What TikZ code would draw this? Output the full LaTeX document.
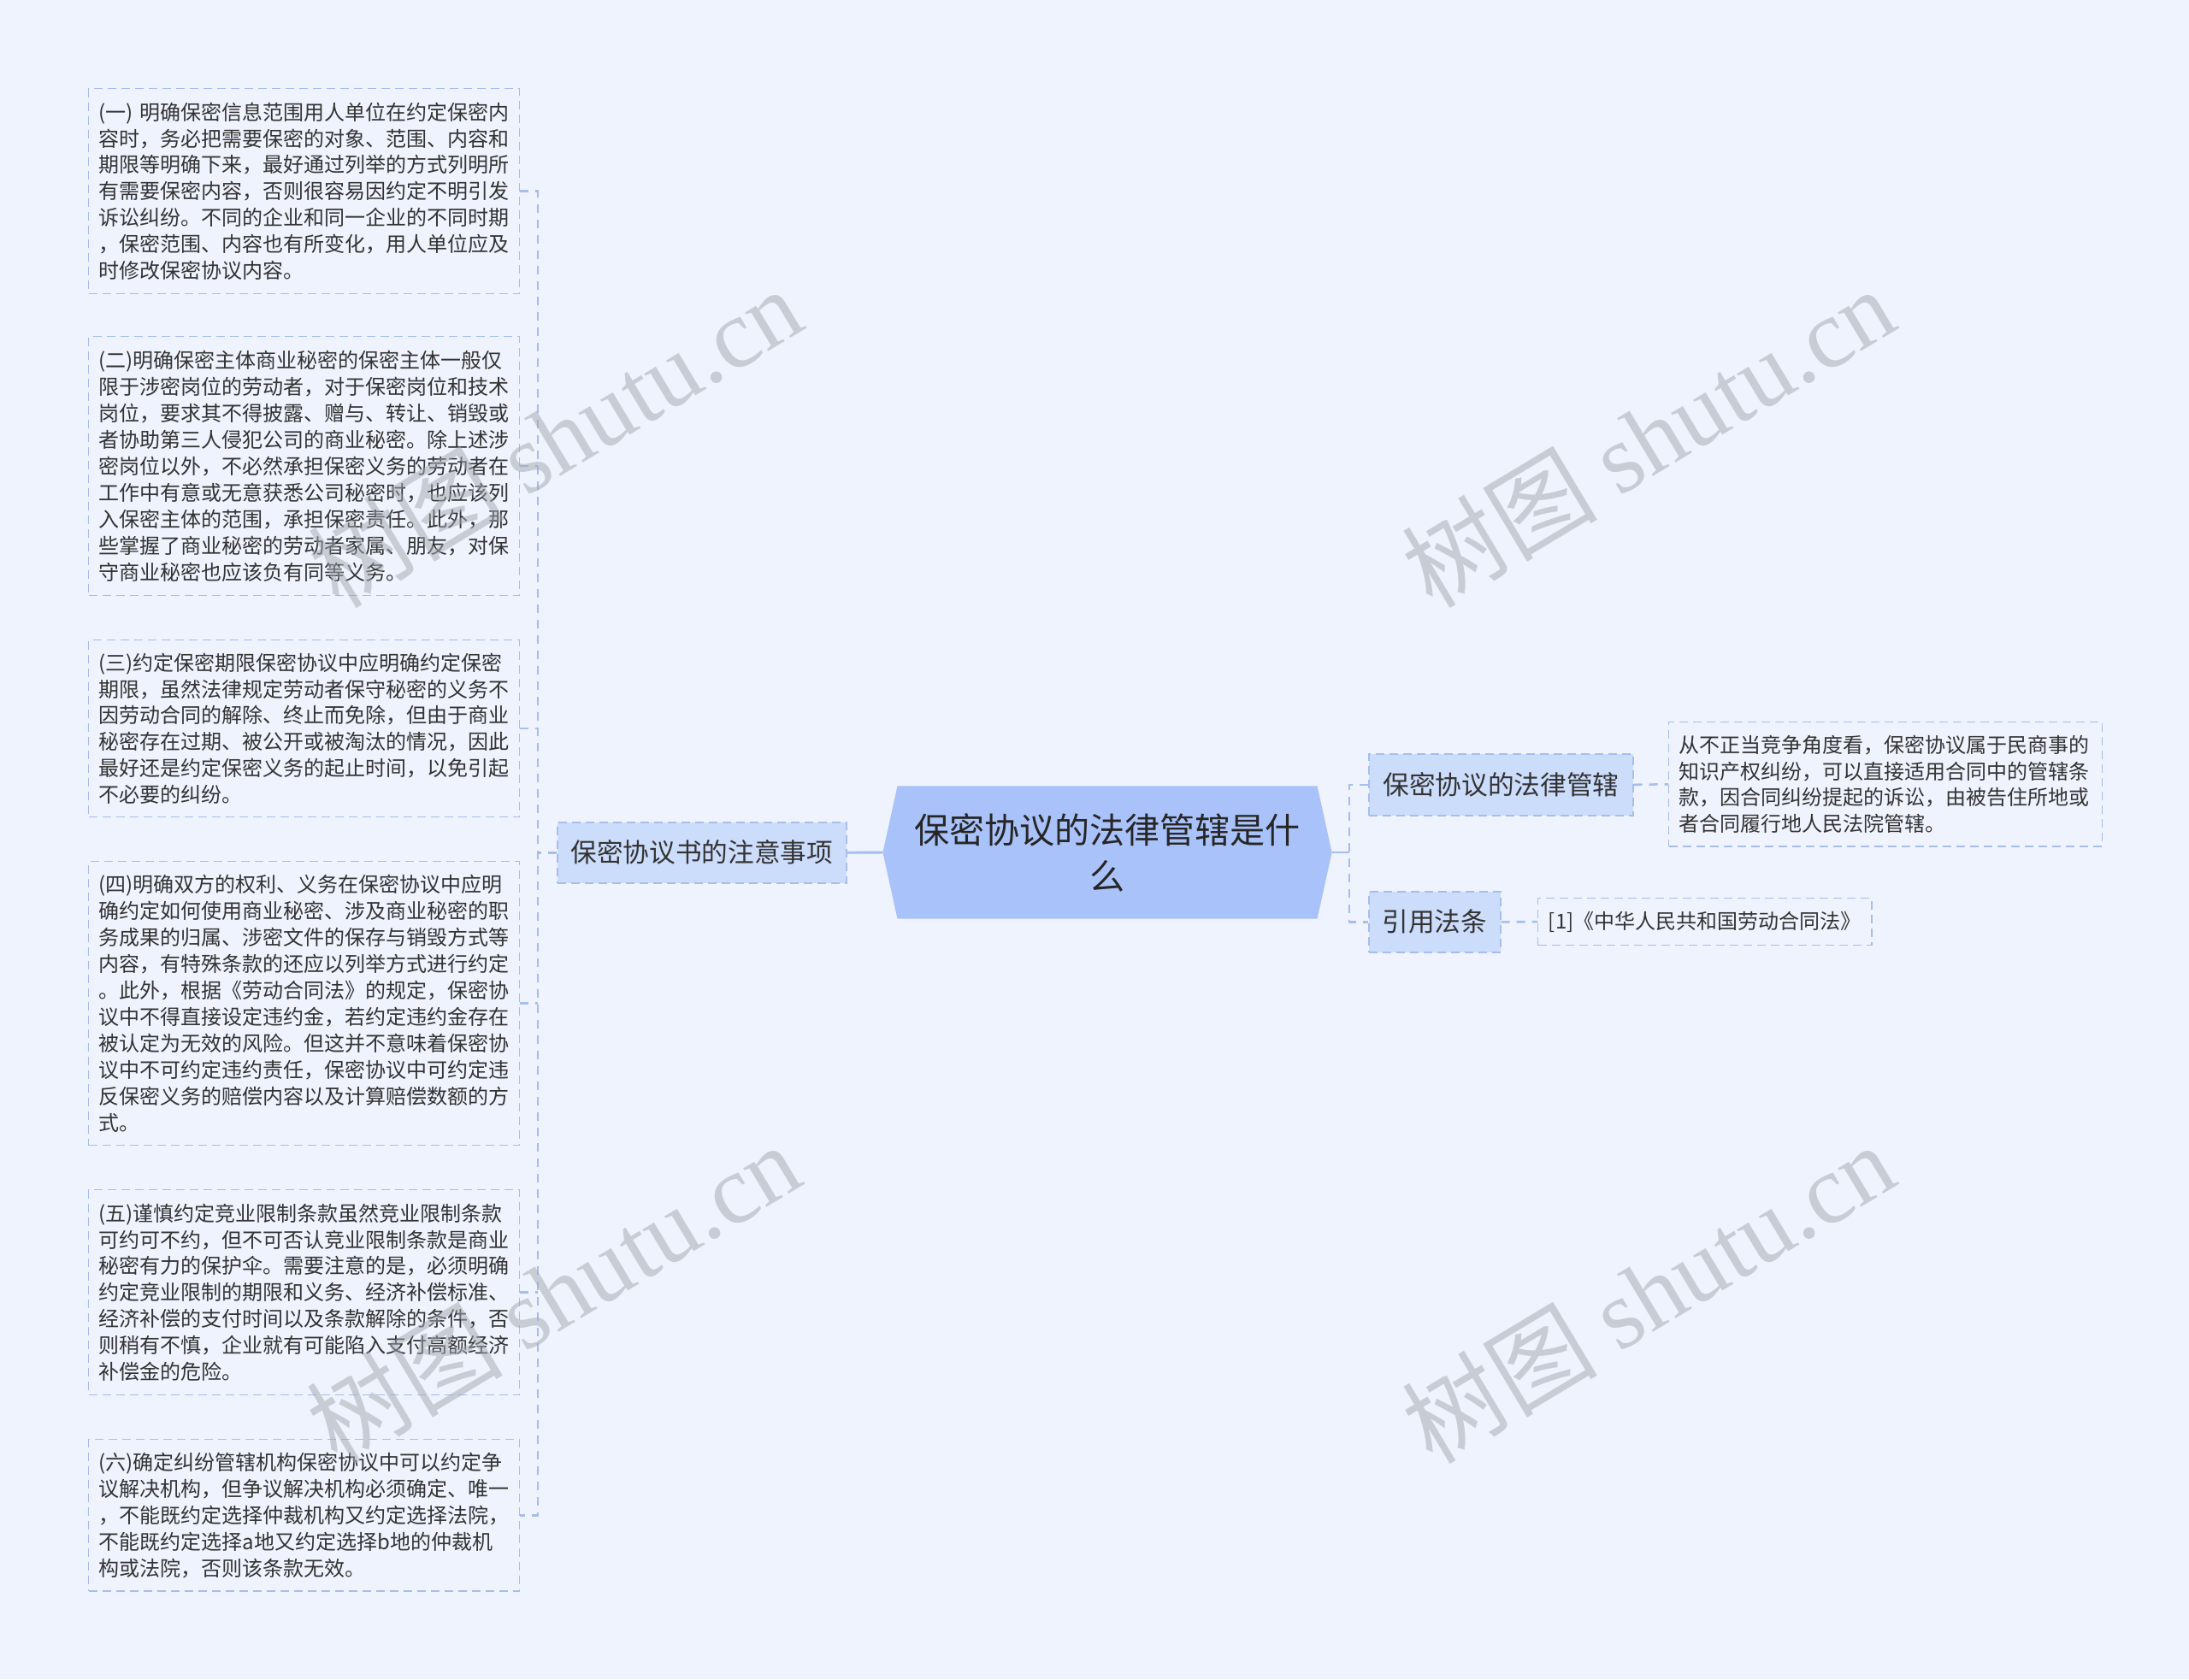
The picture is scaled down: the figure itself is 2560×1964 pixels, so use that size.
\documentclass[tikz,border=0pt]{standalone}
\usepackage{fontspec}
\setmainfont{Noto Sans CJK SC}
\newfontfamily\wmserif{Liberation Serif}
\usetikzlibrary{backgrounds}
\definecolor{bgc}{HTML}{EEF3FD}
\definecolor{centerc}{HTML}{A9C2F9}
\definecolor{branchc}{HTML}{CCDCFB}
\definecolor{edgec}{HTML}{A6BDEE}
\definecolor{txtc}{HTML}{333333}
\definecolor{wmc}{HTML}{A2A7AF}
\begin{document}
\begin{tikzpicture}[x=0.375pt,y=-0.375pt,
  leaf/.style={draw=edgec, line width=0.55pt, dash pattern=on 3.75pt off 2.25pt,
    anchor=north west, inner xsep=4.5pt, inner ysep=0pt, align=left, text=txtc,
    font=\fontsize{9pt}{11.6pt}\selectfont, text width=180pt},
  leafone/.style={draw=edgec, line width=0.55pt, dash pattern=on 3.75pt off 2.25pt,
    anchor=north west, inner sep=0pt, text=txtc, font=\fontsize{9pt}{11.6pt}\selectfont},
  branchbox/.style={draw=edgec, fill=branchc, line width=0.6pt, dash pattern=on 3.75pt off 2.25pt,
    anchor=north west, inner sep=0pt, text=txtc, font=\fontsize{11.5pt}{14pt}\selectfont},
  dashlink/.style={draw=edgec, line width=0.95pt, dash pattern=on 3.75pt off 3pt},
  solidlink/.style={draw=edgec, line width=1.1pt},
  wm/.style={text=wmc, opacity=0.5, rotate=31, font=\fontsize{43pt}{46pt}\selectfont, inner sep=0pt}
]
\useasboundingbox (0,0) rectangle (2560,1964);

% left leaf boxes
\node[leaf, minimum height=90pt] (l1) at (103,103) {\mbox{(一) 明确保密信息范围用人单位在约定保密内}\\容时，务必把需要保密的对象、范围、内容和\\期限等明确下来，最好通过列举的方式列明所\\有需要保密内容，否则很容易因约定不明引发\\诉讼纠纷。不同的企业和同一企业的不同时期\\，保密范围、内容也有所变化，用人单位应及\\时修改保密协议内容。};
\node[leaf, minimum height=113.6pt] (l2) at (103,393) {(二)明确保密主体商业秘密的保密主体一般仅\\限于涉密岗位的劳动者，对于保密岗位和技术\\岗位，要求其不得披露、赠与、转让、销毁或\\者协助第三人侵犯公司的商业秘密。除上述涉\\密岗位以外，不必然承担保密义务的劳动者在\\工作中有意或无意获悉公司秘密时，也应该列\\入保密主体的范围，承担保密责任。此外，那\\些掌握了商业秘密的劳动者家属、朋友，对保\\守商业秘密也应该负有同等义务。};
\node[leaf, minimum height=77.6pt] (l3) at (103,748) {(三)约定保密期限保密协议中应明确约定保密\\期限，虽然法律规定劳动者保守秘密的义务不\\因劳动合同的解除、终止而免除，但由于商业\\秘密存在过期、被公开或被淘汰的情况，因此\\最好还是约定保密义务的起止时间，以免引起\\不必要的纠纷。};
\node[leaf, minimum height=124.5pt] (l4) at (103,1007) {(四)明确双方的权利、义务在保密协议中应明\\确约定如何使用商业秘密、涉及商业秘密的职\\务成果的归属、涉密文件的保存与销毁方式等\\内容，有特殊条款的还应以列举方式进行约定\\。此外，根据《劳动合同法》的规定，保密协\\议中不得直接设定违约金，若约定违约金存在\\被认定为无效的风险。但这并不意味着保密协\\议中不可约定违约责任，保密协议中可约定违\\反保密义务的赔偿内容以及计算赔偿数额的方\\式。};
\node[leaf, minimum height=90pt] (l5) at (103,1391) {(五)谨慎约定竞业限制条款虽然竞业限制条款\\可约可不约，但不可否认竞业限制条款是商业\\秘密有力的保护伞。需要注意的是，必须明确\\约定竞业限制的期限和义务、经济补偿标准、\\经济补偿的支付时间以及条款解除的条件，否\\则稍有不慎，企业就有可能陷入支付高额经济\\补偿金的危险。};
\node[leaf, minimum height=66.4pt] (l6) at (103,1683) {(六)确定纠纷管辖机构保密协议中可以约定争\\议解决机构，但争议解决机构必须确定、唯一\\，不能既约定选择仲裁机构又约定选择法院，\\不能既约定选择a地又约定选择b地的仲裁机\\构或法院，否则该条款无效。};

% branch nodes
\node[branchbox, minimum width=126.75pt, minimum height=26.6pt] (bL) at (651,961) {保密协议书的注意事项};
\node[branchbox, minimum width=115.9pt, minimum height=27pt] (bR1) at (1600,881) {保密协议的法律管辖};
\node[branchbox, minimum width=57.75pt, minimum height=26.6pt] (bR2) at (1600,1042) {引用法条};

% right leaves
\node[leaf, text width=181pt, minimum height=54.4pt] (r1) at (1951,844) {从不正当竞争角度看，保密协议属于民商事的\\知识产权纠纷，可以直接适用合同中的管辖条\\款，因合同纠纷提起的诉讼，由被告住所地或\\者合同履行地人民法院管辖。};
\node[leafone, minimum width=146.25pt, minimum height=20.6pt] (r2) at (1798,1050) {[1]《中华人民共和国劳动合同法》};

% centre
\node[inner sep=0pt, minimum width=183.75pt, minimum height=57.75pt, align=center,
  text=black!85, font=\fontsize{15.4pt}{20.3pt}\selectfont] (c) at (1295,997) {保密协议的法律管辖是什\\么};
\coordinate (ctipL) at ([xshift=-6.4pt]c.west);
\coordinate (ctipR) at ([xshift=6.4pt]c.east);

\begin{scope}[on background layer]
  \fill[bgc] (0,0) rectangle (2560,1964);
  \fill[centerc] (c.north west) -- (c.north east) -- (ctipR) -- (c.south east) -- (c.south west) -- (ctipL) -- cycle;
\end{scope}

% connectors
\coordinate (vx) at (629,0);
\coordinate (rvx) at (1578,0);
\draw[solidlink] (ctipL) -- (bL.east);
\draw[dashlink] (bL.west) -- (bL.west -| vx);
\draw[dashlink] (l1.east) -- (l1.east -| vx) -- (l6.east -| vx) -- (l6.east);
\draw[dashlink] (l2.east) -- (l2.east -| vx);
\draw[dashlink] (l3.east) -- (l3.east -| vx);
\draw[dashlink] (l4.east) -- (l4.east -| vx);
\draw[dashlink] (l5.east) -- (l5.east -| vx);
\draw[solidlink] (ctipR) -- (ctipR -| rvx);
\draw[dashlink] (bR1.west) -- (bR1.west -| rvx) -- (bR2.west -| rvx) -- (bR2.west);
\draw[dashlink] (bR1.east) -- (r1.west);
\draw[dashlink] (bR2.east) -- (r2.west);

% watermarks
\node[wm] (w1) at (649,511) {树图 {\wmserif shutu.cn}};
\node[wm] (w2) at (1927,511) {树图 {\wmserif shutu.cn}};
\node[wm] (w3) at (647,1512) {树图 {\wmserif shutu.cn}};
\node[wm] (w4) at (1927,1512) {树图 {\wmserif shutu.cn}};
\end{tikzpicture}
\end{document}
